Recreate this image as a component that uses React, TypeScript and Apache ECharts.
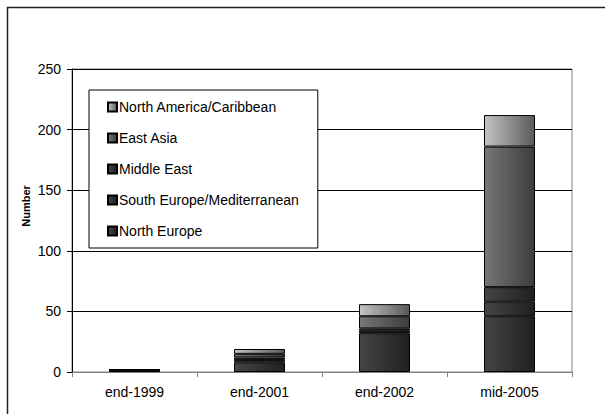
import React, { useEffect, useRef } from "react";
import * as echarts from "echarts";

const categories = ["end-1999", "end-2001", "end-2002", "mid-2005"];
const northEurope = [2, 8, 32, 46];
const southEurope = [0, 2, 2, 12];
const middleEast = [0, 2, 2, 12];
const eastAsia = [0, 3, 10, 116];
const northAmerica = [0, 4, 10, 26];
const legendOrder = [
  "North America/Caribbean",
  "East Asia",
  "Middle East",
  "South Europe/Mediterranean",
  "North Europe",
];
const yTicks = { min: 0, max: 250, interval: 50 };
const yTitle = "Number";

const grad = (a: string, b: string) =>
  new echarts.graphic.LinearGradient(0, 0, 1, 0, [
    { offset: 0, color: a },
    { offset: 1, color: b },
  ]);

export default function App() {
  const ref = useRef<HTMLDivElement>(null);
  useEffect(() => {
    if (!ref.current) return;
    const chart = echarts.init(ref.current, undefined, { renderer: "svg" });
    const font = "'Liberation Sans', Arial, sans-serif";
    const mk = (name: string, data: number[], c1: string, c2: string) => ({
      name,
      type: "bar",
      stack: "total",
      barWidth: 51,
      data,
      itemStyle: { color: grad(c1, c2), borderColor: "#000", borderWidth: 1 },
    });
    chart.setOption({
      animation: false,
      backgroundColor: "#fff",
      textStyle: { fontFamily: font },
      graphic: [
        {
          type: "rect",
          shape: { x: 7.5, y: 7.5, width: 800, height: 600 },
          style: { fill: "none", stroke: "#222", lineWidth: 1.5 },
          silent: true,
        },
        {
          type: "text",
          x: 26,
          y: 206,
          rotation: Math.PI / 2,
          style: {
            text: yTitle,
            fontFamily: font,
            fontWeight: "bold",
            fontSize: 11,
            fill: "#000",
            align: "center",
            verticalAlign: "middle",
          },
          silent: true,
        },
      ],
      grid: {
        left: 72,
        top: 69,
        right: 33,
        bottom: 42,
        show: true,
        borderColor: "#808080",
        borderWidth: 1,
      },
      legend: {
        data: legendOrder,
        orient: "vertical",
        left: 89,
        top: 90,
        icon: "rect",
        itemWidth: 9,
        itemHeight: 9,
        itemGap: 17,
        padding: [10, 19, 10, 18],
        backgroundColor: "#fff",
        borderColor: "#000",
        borderWidth: 1,
        textStyle: { fontFamily: font, fontSize: 14, color: "#000", padding: [0, 0, 0, -3] },
      },
      xAxis: {
        type: "category",
        data: categories,
        axisLine: { lineStyle: { color: "#808080", width: 1 } },
        axisTick: { show: true, length: 5, lineStyle: { color: "#808080" } },
        axisLabel: { color: "#000", fontSize: 14, fontFamily: font, margin: 13 },
      },
      yAxis: {
        type: "value",
        ...yTicks,
        axisLine: { show: true, lineStyle: { color: "#000", width: 1 } },
        axisTick: { show: true, length: 5, lineStyle: { color: "#000" } },
        axisLabel: { color: "#000", fontSize: 14, fontFamily: font, margin: 11 },
        splitLine: { show: true, lineStyle: { color: "#000", width: 1 } },
      },
      series: [
        mk("North Europe", northEurope, "#454545", "#202020"),
        mk("South Europe/Mediterranean", southEurope, "#454545", "#202020"),
        mk("Middle East", middleEast, "#454545", "#202020"),
        mk("East Asia", eastAsia, "#777777", "#3c3c3c"),
        mk("North America/Caribbean", northAmerica, "#c4c4c4", "#5a5a5a"),
      ],
    });
    return () => chart.dispose();
  }, []);
  return (
    <div
      ref={ref}
      style={{ position: "absolute", left: 0, top: 0, width: 605, height: 414 }}
    />
  );
}
